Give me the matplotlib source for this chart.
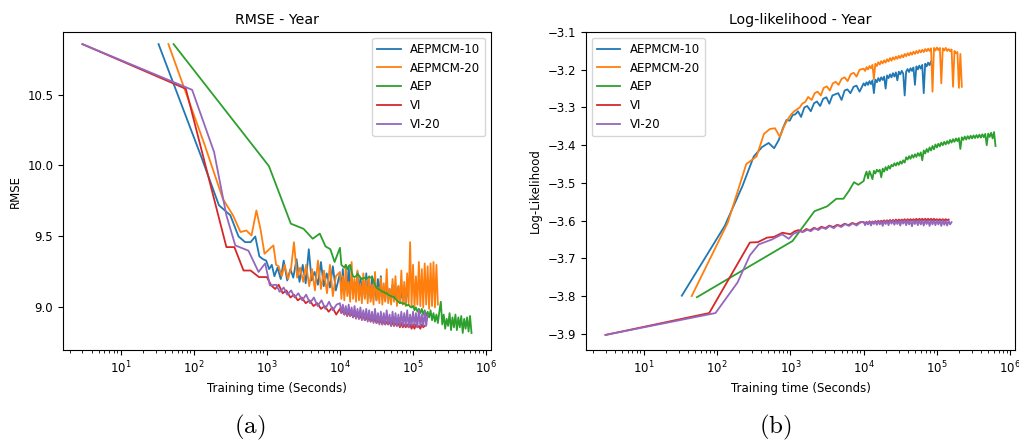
"""RMSE and log-likelihood against wall-clock training time on the Year dataset."""

import matplotlib
matplotlib.use("Agg")
import matplotlib.pyplot as plt  # noqa: E402
from matplotlib.ticker import MultipleLocator  # noqa: E402

plt.rcParams["font.size"] = 8.5
plt.rcParams["mathtext.fontset"] = "cm"

LABELS = ["AEPMCM-10", "AEPMCM-20", "AEP", "VI", "VI-20"]

# evaluation times past 1e4 s (logged every ~0.02 decade)
TAIL_T = [10000, 10470, 10960, 11480, 12020, 12590, 13180, 13800, 14450, 15140,
          15850, 16600, 17380, 18200, 19050, 19950, 20890, 21880, 22910, 23990,
          25120, 26300, 27540, 28840, 30200, 31620, 33110, 34670, 36310, 38020,
          39810, 41690, 43650, 45710, 47860, 50120, 52480, 54950, 57540, 60260,
          63100, 66070, 69180, 72440, 75860, 79430, 83180, 87100, 91200, 95500,
          100000, 104700, 109600, 114800, 120200, 125900, 131800, 138000, 144500, 151400,
          158500, 166000, 173800, 182000, 190500, 199500, 208900, 218800, 229100, 239900,
          251200, 263000, 275400, 288400, 302000, 316200, 331100, 346700, 363100, 380200,
          398100, 416900, 436500, 457100, 478600, 501200, 524800, 549500, 575400, 602600,
          631000]

# evaluation times (seconds) per method, shared by both panels
t_aepmcm10 = [33, 127, 221, 316, 410, 505, 600, 695, 790, 885, 980, 1075,
              1170, 1270, 1400, 1550, 1700, 1900, 2100, 2300, 2550, 2800,
              3100, 3400, 3750, 4100, 4500, 5000, 5500, 6000, 6600, 7300,
              8000, 8800] + TAIL_T[:47]
t_aepmcm20 = [45, 140, 250, 345, 436, 525, 617, 720, 820, 930, 1030, 1130, 1230, 1340, 1450,
              1600, 1750, 1950, 2150, 2350, 2600, 2850, 3150, 3450, 3800,
              4150, 4550, 5000, 5500, 6050, 6650, 7300, 8000, 8800] + TAIL_T[:68]
t_aep = [53, 1070, 2130, 3180, 4240, 5300, 6350, 7400, 8450] + TAIL_T
t_vi = [3, 78, 280, 360, 480, 600, 780, 1000, 1150,
        1300, 1450, 1650, 1850, 2100, 2350, 2650, 3000, 3400, 3850,
        4350, 4900, 5500, 6200, 7000, 7900, 8900] + TAIL_T[:59]
t_vi20 = [3, 95, 190, 280, 370, 560, 770, 950, 1100, 1340,
          1500, 1700, 1900, 2150, 2400, 2700, 3050, 3450, 3900, 4400,
          4950, 5600, 6300, 7100, 8000, 9000] + TAIL_T[:61]

# test RMSE
rmse_aepmcm10 = [10.855, 10.06, 9.72, 9.65, 9.50, 9.46, 9.46, 9.50, 9.36, 9.34, 9.33, 9.27,
                 9.30, 9.22, 9.28, 9.20, 9.33, 9.19, 9.27, 9.21, 9.34, 9.18,
                 9.30, 9.17, 9.41, 9.19, 9.25, 9.16, 9.32, 9.15, 9.24, 9.14,
                 9.29, 9.12,
                 9.24, 9.12, 9.27, 9.10, 9.20, 9.13, 9.29, 9.09, 9.22, 9.11,
                 9.18, 9.10, 9.25, 9.08, 9.21, 9.12, 9.19, 9.07, 9.24, 9.09,
                 9.17, 9.06, 9.22, 9.09, 9.15, 9.05, 9.20, 9.08, 9.22, 9.06,
                 9.14, 9.05, 9.18, 9.07, 9.13, 9.04, 9.16, 9.06, 9.12, 9.05,
                 9.15, 9.04, 9.11, 9.06, 9.14, 9.03, 9.10]
rmse_aepmcm20 = [10.855, 10.15, 9.765, 9.648, 9.531, 9.542, 9.507, 9.683, 9.55, 9.378,
                 9.40, 9.42, 9.437, 9.30, 9.29,
                 9.22, 9.30, 9.20, 9.28, 9.46, 9.21, 9.28, 9.18, 9.30, 9.15,
                 9.27, 9.12, 9.33, 9.13, 9.26, 9.10, 9.30, 9.08, 9.22,
                 9.25, 9.06, 9.22, 9.05, 9.30, 9.08, 9.18, 9.04, 9.32, 9.06,
                 9.20, 9.04, 9.26, 9.05, 9.17, 9.03, 9.24, 9.06, 9.19, 9.03,
                 9.22, 9.04, 9.16, 9.02, 9.25, 9.05, 9.14, 9.03, 9.21, 9.02,
                 9.17, 9.04, 9.27, 9.03, 9.13, 9.02, 9.20, 9.04, 9.22, 9.01,
                 9.15, 9.03, 9.26, 9.02, 9.18, 9.01, 9.24, 9.03, 9.46, 9.01,
                 9.30, 9.00, 9.22, 9.02, 9.32, 9.01, 9.27, 9.00, 9.31, 9.02,
                 9.29, 8.99, 9.31, 9.01, 9.32, 9.00, 9.30, 9.02]
rmse_aep = [10.855, 9.995, 9.59, 9.554, 9.484, 9.52, 9.43, 9.41, 9.32,
            9.42, 9.30, 9.29, 9.28, 9.30, 9.27, 9.29, 9.30, 9.25, 9.22,
            9.214, 9.22, 9.237, 9.225, 9.21, 9.20, 9.205, 9.21, 9.20, 9.21,
            9.215, 9.21, 9.214, 9.19, 9.16, 9.14, 9.132, 9.125, 9.12, 9.11,
            9.11, 9.10, 9.10, 9.09, 9.085, 9.08, 9.075, 9.073, 9.06, 9.05,
            9.04, 9.03, 9.035, 9.026, 9.03, 9.02, 9.014, 9.02, 9.005, 9.00,
            9.01, 8.98, 9.00, 8.97, 8.99, 8.96, 8.99, 8.95, 8.98, 8.94,
            8.97, 8.93, 8.98, 8.91, 8.96, 8.90, 8.95, 8.89, 8.97, 9.04,
            8.88, 8.95, 8.85, 8.92, 8.87, 8.96, 8.84, 8.93, 8.86, 8.95,
            8.84, 8.93, 8.86, 8.94, 8.82, 8.92, 8.85, 8.93, 8.83, 8.94,
            8.82]
rmse_vi = [10.855, 10.54, 9.425, 9.425, 9.26, 9.26, 9.214, 9.214, 9.155,
           9.13, 9.16, 9.10, 9.12, 9.07, 9.09, 9.05, 9.07, 9.03, 9.05,
           9.01, 9.03, 8.99, 9.01, 8.97, 9.00, 8.95,
           8.99, 8.96, 8.98, 8.95, 8.97, 8.94, 8.97, 8.94, 8.96, 8.93,
           8.95, 8.93, 8.95, 8.92, 8.94, 8.92, 8.94, 8.91, 8.93, 8.91,
           8.93, 8.90, 8.92, 8.90, 8.92, 8.89, 8.91, 8.89, 8.91, 8.88,
           8.91, 8.88, 8.90, 8.88, 8.90, 8.87, 8.90, 8.87, 8.89, 8.87,
           8.89, 8.86, 8.89, 8.86, 8.88, 8.86, 8.88, 8.86, 8.88, 8.85,
           8.88, 8.85, 8.88, 8.86, 8.87, 8.85, 8.88, 8.86, 8.87]
rmse_vi20 = [10.855, 10.533, 10.094, 9.648, 9.437, 9.40, 9.25, 9.31, 9.155, 9.16,
             9.11, 9.14, 9.09, 9.12, 9.07, 9.10, 9.05, 9.09, 9.03, 9.07,
             9.01, 9.05, 8.99, 9.04, 8.98, 9.02,
             9.03, 8.96, 9.02, 8.95, 9.01, 8.94, 9.02, 8.94, 9.00, 8.93,
             9.01, 8.92, 8.99, 8.92, 9.00, 8.91, 8.98, 8.91, 8.99, 8.90,
             8.98, 8.90, 8.97, 8.89, 8.99, 8.89, 8.96, 8.88, 8.97, 8.88,
             8.96, 8.88, 8.98, 8.88, 8.95, 8.87, 8.97, 8.87, 8.96, 8.87,
             8.95, 8.87, 8.97, 8.87, 8.96, 8.87, 8.98, 8.86, 8.95, 8.87,
             8.97, 8.87, 8.96, 8.86, 8.98, 8.87, 8.95, 8.87, 8.97, 8.87,
             8.95]

# test log-likelihood
ll_aepmcm10 = [-3.799, -3.614, -3.509, -3.43, -3.405, -3.394, -3.408, -3.386, -3.355, -3.333,
               -3.335, -3.32,
               -3.318, -3.310, -3.325, -3.300, -3.296, -3.310, -3.289, -3.284, -3.296, -3.277,
               -3.273, -3.290, -3.268, -3.265, -3.262, -3.280, -3.255, -3.252, -3.262, -3.245,
               -3.242, -3.258,
               -3.236, -3.242, -3.233, -3.240, -3.230, -3.238, -3.228, -3.262, -3.226, -3.233,
               -3.222, -3.230, -3.220, -3.227, -3.218, -3.250, -3.215, -3.222, -3.212, -3.220,
               -3.209, -3.218, -3.207, -3.228, -3.205, -3.212, -3.203, -3.210, -3.268, -3.205,
               -3.198, -3.206, -3.196, -3.203, -3.194, -3.240, -3.191, -3.199, -3.189, -3.197,
               -3.187, -3.262, -3.184, -3.191, -3.181, -3.188, -3.178]
ll_aepmcm20 = [-3.80, -3.605, -3.45, -3.43, -3.37, -3.357, -3.355, -3.378, -3.35, -3.33,
               -3.318, -3.31, -3.305, -3.30, -3.29,
               -3.285, -3.272, -3.280, -3.262, -3.258, -3.268, -3.248, -3.244, -3.255, -3.236,
               -3.232, -3.240, -3.224, -3.220, -3.230, -3.212, -3.208, -3.218, -3.200,
               -3.197, -3.203, -3.193, -3.199, -3.190, -3.196, -3.187, -3.225, -3.184, -3.190,
               -3.180, -3.186, -3.177, -3.183, -3.175, -3.181, -3.172, -3.178, -3.169, -3.176,
               -3.167, -3.173, -3.165, -3.171, -3.163, -3.169, -3.161, -3.167, -3.158, -3.164,
               -3.156, -3.162, -3.154, -3.160, -3.152, -3.158, -3.150, -3.156, -3.148, -3.154,
               -3.147, -3.153, -3.145, -3.151, -3.144, -3.150, -3.143, -3.258, -3.142, -3.149,
               -3.141, -3.148, -3.142, -3.236, -3.143, -3.149, -3.142, -3.150, -3.145, -3.151,
               -3.146, -3.245, -3.150, -3.156, -3.153, -3.248, -3.158, -3.245]
ll_aep = [-3.803, -3.654, -3.575, -3.562, -3.542, -3.542, -3.52, -3.498, -3.505,
          -3.495, -3.480, -3.470, -3.488, -3.469, -3.478, -3.490, -3.468, -3.475, -3.465,
          -3.470, -3.465, -3.485, -3.462, -3.470, -3.458, -3.466, -3.455, -3.462, -3.452,
          -3.456, -3.448, -3.454, -3.446, -3.452, -3.443, -3.449, -3.440, -3.446, -3.432,
          -3.438, -3.429, -3.436, -3.426, -3.433, -3.424, -3.431, -3.421, -3.428, -3.419,
          -3.440, -3.414, -3.422, -3.410, -3.418, -3.406, -3.414, -3.402, -3.411, -3.398,
          -3.406, -3.396, -3.403, -3.393, -3.400, -3.391, -3.398, -3.389, -3.396, -3.386,
          -3.393, -3.384, -3.391, -3.382, -3.389, -3.381, -3.410, -3.379, -3.386, -3.377,
          -3.385, -3.376, -3.383, -3.375, -3.382, -3.374, -3.381, -3.373, -3.380, -3.372,
          -3.380, -3.371, -3.379, -3.370, -3.400, -3.369, -3.378, -3.367, -3.382, -3.365,
          -3.402]
ll_vi = [-3.903, -3.845, -3.658, -3.657, -3.645, -3.643, -3.632, -3.636, -3.628,
         -3.625, -3.630, -3.622, -3.626, -3.619, -3.623, -3.616, -3.620, -3.613, -3.617,
         -3.611, -3.614, -3.608, -3.612, -3.606, -3.610, -3.604,
         -3.604, -3.609, -3.603, -3.608, -3.602, -3.607, -3.602, -3.606, -3.601, -3.606,
         -3.600, -3.605, -3.600, -3.604, -3.599, -3.604, -3.599, -3.603, -3.598, -3.603,
         -3.598, -3.602, -3.597, -3.602, -3.597, -3.601, -3.597, -3.601, -3.596, -3.601,
         -3.596, -3.600, -3.596, -3.600, -3.596, -3.600, -3.595, -3.600, -3.595, -3.599,
         -3.595, -3.599, -3.595, -3.599, -3.595, -3.599, -3.595, -3.599, -3.595, -3.599,
         -3.596, -3.599, -3.596, -3.600, -3.596, -3.600, -3.596, -3.599, -3.597]
ll_vi20 = [-3.903, -3.845, -3.764, -3.692, -3.663, -3.650, -3.636, -3.648, -3.635, -3.628,
           -3.630, -3.624, -3.628, -3.620, -3.625, -3.618, -3.622, -3.614, -3.620, -3.612,
           -3.617, -3.609, -3.614, -3.607, -3.613, -3.605,
           -3.603, -3.612, -3.604, -3.610, -3.602, -3.613, -3.603, -3.609, -3.602, -3.611,
           -3.601, -3.610, -3.602, -3.614, -3.601, -3.609, -3.601, -3.612, -3.600, -3.608,
           -3.600, -3.611, -3.600, -3.609, -3.600, -3.613, -3.600, -3.608, -3.599, -3.612,
           -3.599, -3.610, -3.600, -3.615, -3.599, -3.609, -3.599, -3.612, -3.599, -3.610,
           -3.599, -3.613, -3.599, -3.609, -3.599, -3.614, -3.599, -3.610, -3.599, -3.612,
           -3.599, -3.610, -3.600, -3.614, -3.599, -3.611, -3.600, -3.613, -3.600, -3.610,
           -3.604]

times = [t_aepmcm10, t_aepmcm20, t_aep, t_vi, t_vi20]
rmse = [rmse_aepmcm10, rmse_aepmcm20, rmse_aep, rmse_vi, rmse_vi20]
loglik = [ll_aepmcm10, ll_aepmcm20, ll_aep, ll_vi, ll_vi20]


def main():
    fig = plt.figure(figsize=(10.19, 4.41), dpi=100)
    ax1 = fig.add_axes([0.0618, 0.2063, 0.420, 0.721])
    ax2 = fig.add_axes([0.5751, 0.2063, 0.421, 0.721])

    for t, y, lab in zip(times, rmse, LABELS):
        ax1.plot(t, y, lw=1.3, label=lab)
    ax1.set_xscale("log")
    ax1.set_ylim(8.70, 10.94)
    ax1.yaxis.set_major_locator(MultipleLocator(0.5))
    ax1.set_title("RMSE - Year")
    ax1.set_xlabel("Training time (Seconds)")
    ax1.set_ylabel("RMSE")
    ax1.legend(loc="upper right")

    for t, y, lab in zip(times, loglik, LABELS):
        ax2.plot(t, y, lw=1.3, label=lab)
    ax2.set_xscale("log")
    ax2.set_ylim(-3.943, -3.10)
    ax2.yaxis.set_major_locator(MultipleLocator(0.1))
    ax2.set_title("Log-likelihood - Year")
    ax2.set_xlabel("Training time (Seconds)")
    ax2.set_ylabel("Log-Likelihood")
    ax2.legend(loc="upper left")

    fig.text(0.2453, 0.03, r"$\mathrm{(a)}$", fontsize=18, ha="center", va="center")
    fig.text(0.7605, 0.03, r"$\mathrm{(b)}$", fontsize=18, ha="center", va="center")

    fig.savefig("out.png", dpi=100)


if __name__ == "__main__":
    main()
